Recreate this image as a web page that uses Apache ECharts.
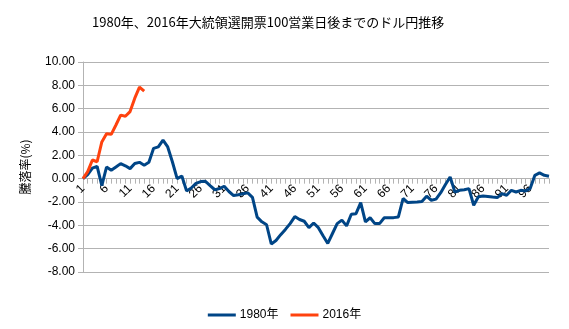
<!DOCTYPE html>
<html><head><meta charset="utf-8">
<script src="https://cdn.jsdelivr.net/npm/echarts@6/dist/echarts.min.js"></script>
<style>html,body{margin:0;padding:0;background:#fff}#c{width:569px;height:329px}</style>
</head><body><div id="c"></div>
<script>
const titleText = "1980年、2016年大統領選開票100営業日後までのドル円推移";
const yName = "騰落率(%)";
const seriesNames = ["1980年", "2016年"];
const days = [];
for (let i = 1; i <= 100; i++) days.push(String(i));
const y1980 = [0, 0.35, 0.9, 1.05, -0.6, 1.0, 0.72, 1.0, 1.29, 1.1,
  0.86, 1.3, 1.4, 1.15, 1.4, 2.6, 2.72, 3.3, 2.72, 1.43,
  0.0, 0.23, -1.05, -0.8, -0.4, -0.25, -0.22, -0.6, -0.95, -0.85,
  -0.65, -1.1, -1.45, -1.38, -1.3, -1.22, -1.6, -3.3, -3.7, -3.95,
  -5.6, -5.3, -4.8, -4.35, -3.85, -3.25, -3.5, -3.65, -4.2, -3.8,
  -4.2, -4.9, -5.55, -4.7, -3.85, -3.55, -4.05, -3.05, -3.0, -2.05,
  -3.7, -3.35, -3.85, -3.85, -3.35, -3.34, -3.34, -3.28, -1.7, -2.05,
  -2.02, -2.0, -1.95, -1.5, -1.85, -1.75, -1.2, -0.5, 0.15, -1.14,
  -1.0, -0.95, -0.85, -2.28, -1.55, -1.48, -1.52, -1.58, -1.62, -1.28,
  -1.42, -1.0, -1.14, -1.0, -1.05, -0.85, 0.29, 0.49, 0.29, 0.21];
const y2016 = [0, 0.6, 1.6, 1.45, 3.15, 3.85, 3.8, 4.6, 5.45, 5.35, 5.75, 6.9, 7.85, 7.5];
const yMin = -8, yMax = 10, yStep = 2;

const gridTop = 62, gridBottom = 57, chartH = 329;
const plotH = chartH - gridTop - gridBottom;
const zeroOffset = plotH * (0 - yMin) / (yMax - yMin);

const chart = echarts.init(document.getElementById('c'), null, {renderer: 'canvas'});
const font = "'Liberation Sans', Arial, 'Noto Sans CJK JP', sans-serif";
chart.setOption({
  animation: false,
  backgroundColor: '#ffffff',
  title: {
    text: titleText, left: 87, top: 11,
    textStyle: {fontSize: 13, fontWeight: 'normal', color: '#000', fontFamily: "'Noto Sans CJK JP', sans-serif"}
  },
  legend: {
    bottom: 3, left: 'center', itemGap: 12, itemWidth: 28, itemHeight: 3,
    icon: 'rect',
    data: seriesNames,
    textStyle: {fontSize: 12, color: '#000', fontFamily: font, padding: [0, 0, 0, -1]}
  },
  grid: {left: 83, right: 20, top: gridTop, bottom: gridBottom},
  xAxis: {
    type: 'category', data: days, boundaryGap: false,
    position: 'bottom', offset: -zeroOffset,
    axisLine: {onZero: false, lineStyle: {color: '#b3b3b3'}},
    axisTick: {show: true, interval: 0, length: 5, lineStyle: {color: '#b3b3b3'}},
    axisLabel: {interval: 4, rotate: 45, fontSize: 12, color: '#000', fontFamily: font, margin: 8},
    splitLine: {show: false}
  },
  yAxis: {
    type: 'value', min: yMin, max: yMax, interval: yStep,
    name: yName, nameLocation: 'middle', nameGap: 52, nameRotate: 90,
    nameTextStyle: {fontSize: 12, color: '#000', fontFamily: "'Noto Sans CJK JP', sans-serif"},
    axisLine: {show: true, lineStyle: {color: '#b3b3b3'}},
    axisTick: {show: true, length: 5, lineStyle: {color: '#b3b3b3'}},
    axisLabel: {formatter: v => v.toFixed(2), fontSize: 12, color: '#000', fontFamily: font, margin: 8},
    splitLine: {lineStyle: {color: '#b3b3b3'}}
  },
  series: [
    {name: seriesNames[0], type: 'line', data: y1980, symbol: 'none', lineStyle: {width: 3, color: '#004586'}, itemStyle: {color: '#004586'}},
    {name: seriesNames[1], type: 'line', data: y2016, symbol: 'none', lineStyle: {width: 3, color: '#ff420e'}, itemStyle: {color: '#ff420e'}}
  ]
});
</script></body></html>
